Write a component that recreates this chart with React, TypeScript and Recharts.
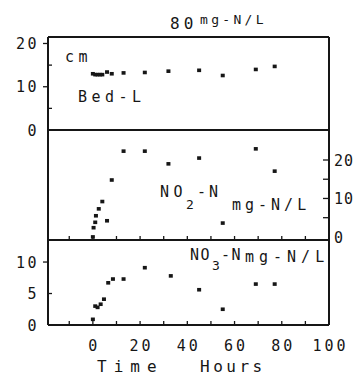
import React from "react";
import { ScatterChart, Scatter, XAxis, YAxis, ReferenceLine } from "recharts";

const bedHours = [0, 1, 2, 3, 4, 6, 8, 13, 22, 32, 45, 55, 69, 77];
const bedL = [13.0, 12.8, 12.8, 12.8, 12.8, 13.4, 13.0, 13.2, 13.3, 13.6, 13.8, 12.6, 14.0, 14.7];

const no2Hours = [0, 0.3, 1, 1.3, 2.5, 4, 6, 8, 13, 22, 32, 45, 55, 69, 77];
const no2 = [0, 2.4, 3.8, 5.5, 7.3, 9.2, 4.2, 14.8, 22.3, 22.3, 19.0, 20.5, 3.6, 22.9, 17.1];

const no3Hours = [0, 1, 2, 3.3, 4.7, 6.5, 8.5, 13, 22, 33, 45, 55, 69, 77];
const no3 = [0.9, 3.0, 2.8, 3.3, 4.1, 6.7, 7.3, 7.3, 9.1, 7.8, 5.6, 2.5, 6.5, 6.5];

const xTicks = [-10, 0, 10, 20, 30, 40, 50, 60, 70, 80, 90];
const xLabels = [0, 20, 40, 60, 80, 100];
const bedTicks = [0, 5, 10, 15, 20];
const bedLabels = [0, 10, 20];
const no2Ticks = [0, 5, 10, 15, 20];
const no2Labels = [0, 10, 20];
const no3Ticks = [0, 5, 10];

const X_DOMAIN: [number, number] = [-19, 100];
const BED_DOMAIN: [number, number] = [0, 21.5];
const NO2_DOMAIN: [number, number] = [-0.8, 27.8];
const NO3_DOMAIN: [number, number] = [0, 13.5];

const INK = "#161616";
const FONT = "'DejaVu Sans Mono', monospace";

const zip = (xs: number[], ys: number[]) => xs.map((x, i) => ({ x, y: ys[i] }));
const bedData = zip(bedHours, bedL);
const no2Data = zip(no2Hours, no2);
const no3Data = zip(no3Hours, no3);

const Dot = (p: any) => (
  <rect x={p.cx - 2} y={p.cy - 1.8} width={4} height={3.6} fill={INK} />
);

const makeXTick = (withLabels: boolean) => (p: any) => {
  const v = p.payload.value;
  return (
    <g>
      {v < 100 && <line x1={p.x} x2={p.x} y1={p.y} y2={p.y - 4} stroke={INK} strokeWidth={1.3} />}
      {withLabels && xLabels.includes(v) && (
        <text x={p.x + 1.5} y={p.y + 26} textAnchor="middle" fontFamily={FONT} fontSize={15} letterSpacing={3} fill={INK}>
          {v}
        </text>
      )}
    </g>
  );
};

const makeLeftTick = (labels: number[], outward: number[]) => (p: any) => {
  const v = p.payload.value;
  const out = outward.includes(v);
  return (
    <g>
      {v !== 0 && (
        <line x1={p.x} x2={out ? p.x - 5 : p.x + 4} y1={p.y} y2={p.y} stroke={INK} strokeWidth={1.3} />
      )}
      {labels.includes(v) && (
        <text x={p.x - 9} y={p.y + 5.5} textAnchor="end" fontFamily={FONT} fontSize={15} letterSpacing={2.5} fill={INK}>
          {v}
        </text>
      )}
    </g>
  );
};

const RightTick = (p: any) => {
  const v = p.payload.value;
  return (
    <g>
      {v !== 0 && <line x1={p.x} x2={p.x - 6} y1={p.y} y2={p.y} stroke={INK} strokeWidth={1.3} />}
      {no2Labels.includes(v) && (
        <text x={p.x + 5} y={p.y + 6} textAnchor="start" fontFamily={FONT} fontSize={15} letterSpacing={1} fill={INK}>
          {v}
        </text>
      )}
    </g>
  );
};

const W = 356;
const H = 377;
const abs: React.CSSProperties = { position: "absolute", left: 0, top: 0 };
const axisStroke = { stroke: INK, strokeWidth: 2 };

export default function App() {
  return (
    <div style={{ position: "absolute", left: 0, top: 0, width: W, height: H, background: "#fff", overflow: "hidden" }}>
      {/* Top panel: Bed-L */}
      <div style={abs}>
        <ScatterChart width={W} height={H} margin={{ top: 37, right: 27, bottom: H - 130, left: 47 }}>
          <XAxis type="number" dataKey="x" domain={X_DOMAIN} hide allowDataOverflow />
          <YAxis
            type="number"
            dataKey="y"
            domain={BED_DOMAIN}
            ticks={bedTicks}
            width={1}
            tickSize={0}
            tickMargin={0}
            tickLine={false}
            axisLine={axisStroke}
            tick={makeLeftTick(bedLabels, [10, 20])}
            interval={0}
            allowDataOverflow
          />
          <ReferenceLine y={21.5} stroke={INK} strokeWidth={2} />
          <ReferenceLine y={0} stroke={INK} strokeWidth={2} />
          <ReferenceLine x={100} stroke={INK} strokeWidth={2} />
          <Scatter data={bedData} shape={Dot} isAnimationActive={false} />
        </ScatterChart>
      </div>

      {/* Middle panel: NO2-N */}
      <div style={abs}>
        <ScatterChart width={W} height={H} margin={{ top: 130, right: 26, bottom: H - 241, left: 48 }}>
          <XAxis
            type="number"
            dataKey="x"
            domain={X_DOMAIN}
            ticks={xTicks}
            interval={0}
            height={1}
            tickSize={0}
            tickMargin={0}
            tickLine={false}
            axisLine={axisStroke}
            tick={makeXTick(false)}
            allowDataOverflow
          />
          <YAxis
            yAxisId="r"
            orientation="right"
            type="number"
            dataKey="y"
            domain={NO2_DOMAIN}
            ticks={no2Ticks}
            interval={0}
            width={1}
            tickSize={0}
            tickMargin={0}
            tickLine={false}
            axisLine={axisStroke}
            tick={RightTick}
            allowDataOverflow
          />
          <ReferenceLine yAxisId="r" x={-19} stroke={INK} strokeWidth={2} />
          <Scatter yAxisId="r" data={no2Data} shape={Dot} isAnimationActive={false} />
        </ScatterChart>
      </div>

      {/* Bottom panel: NO3-N */}
      <div style={abs}>
        <ScatterChart width={W} height={H} margin={{ top: 240, right: 27, bottom: H - 326, left: 47 }}>
          <XAxis
            type="number"
            dataKey="x"
            domain={X_DOMAIN}
            ticks={[...xTicks, 100]}
            interval={0}
            height={1}
            tickSize={0}
            tickMargin={0}
            tickLine={false}
            axisLine={axisStroke}
            tick={makeXTick(true)}
            allowDataOverflow
          />
          <YAxis
            type="number"
            dataKey="y"
            domain={NO3_DOMAIN}
            ticks={no3Ticks}
            interval={0}
            width={1}
            tickSize={0}
            tickMargin={0}
            tickLine={false}
            axisLine={axisStroke}
            tick={makeLeftTick(no3Ticks, [10])}
            allowDataOverflow
          />
          <ReferenceLine x={100} stroke={INK} strokeWidth={2} />
          <Scatter data={no3Data} shape={Dot} isAnimationActive={false} />
        </ScatterChart>
      </div>

      {/* Text annotations */}
      <svg width={W} height={H} style={{ ...abs, pointerEvents: "none" }}>
        <g fontFamily={FONT} fill={INK}>
          <text x={170} y={29} fontSize={16} letterSpacing={4}>80</text>
          <text x={200} y={24} fontSize={13} letterSpacing={3.3}>mg-N/L</text>
          <text x={65} y={62} fontSize={15} letterSpacing={4.5}>cm</text>
          <text x={78} y={102} fontSize={15} letterSpacing={4.5}>Bed-L</text>

          <text x={160} y={197} fontSize={15} letterSpacing={4.5}>NO</text>
          <text x={186} y={209} fontSize={13}>2</text>
          <text x={197} y={197} fontSize={15} letterSpacing={3}>-N</text>
          <text x={232} y={210} fontSize={15} letterSpacing={4}>mg-N/L</text>

          <text x={190} y={260} fontSize={15} letterSpacing={1.5}>NO</text>
          <text x={212} y={270} fontSize={13}>3</text>
          <text x={221} y={260} fontSize={15} letterSpacing={1.5}>-N</text>
          <text x={245} y={262} fontSize={15} letterSpacing={5}>mg-N/L</text>

          <text x={97} y={372} fontSize={16} letterSpacing={7}>Time</text>
          <text x={200} y={372} fontSize={16} letterSpacing={3.5}>Hours</text>
        </g>
      </svg>
    </div>
  );
}
